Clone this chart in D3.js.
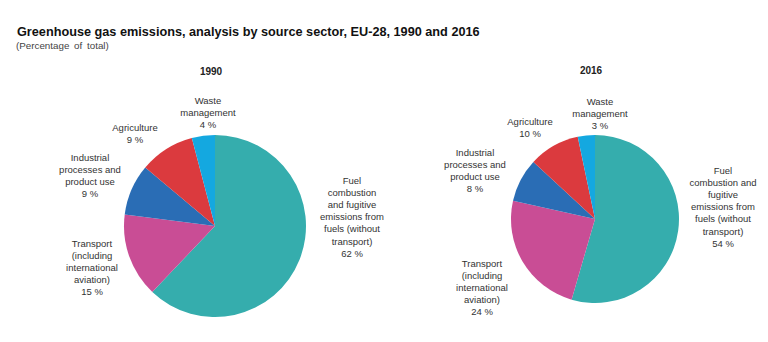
<!DOCTYPE html>
<html>
<head>
<meta charset="utf-8">
<script src="https://cdn.jsdelivr.net/npm/d3@7"></script>
<style>
  html, body { margin: 0; padding: 0; background: #ffffff; }
  svg { display: block; font-family: "Liberation Sans", Arial, sans-serif; }
</style>
</head>
<body>
<svg id="chart" width="768" height="342"></svg>
<script>
// ---- Data ----
const categories = [
  "Fuel combustion and fugitive emissions from fuels (without transport)",
  "Transport (including international aviation)",
  "Industrial processes and product use",
  "Agriculture",
  "Waste management"
];
const years = ["1990", "2016"];
const values1990 = [62.1, 14.9, 9.1, 9.8, 4.1];
const values2016 = [54.5, 24.0, 8.4, 9.8, 3.3];
const labels1990 = ["62 %", "15 %", "9 %", "9 %", "4 %"];
const labels2016 = ["54 %", "24 %", "8 %", "10 %", "3 %"];
const labelLines1990 = [
  ["Fuel", "combustion", "and fugitive", "emissions from", "fuels (without", "transport)"],
  ["Transport", "(including", "international", "aviation)"],
  ["Industrial", "processes and", "product use"],
  ["Agriculture"],
  ["Waste", "management"]
];
const labelLines2016 = [
  ["Fuel", "combustion and", "fugitive", "emissions from", "fuels (without", "transport)"],
  ["Transport", "(including", "international", "aviation)"],
  ["Industrial", "processes and", "product use"],
  ["Agriculture"],
  ["Waste", "management"]
];
const title = "Greenhouse gas emissions, analysis by source sector, EU-28, 1990 and 2016";
const subtitle = "(Percentage of total)";

// ---- Layout / style ----
const colors = ["#35adad", "#c94d95", "#2a6db5", "#db3a3e", "#14a8e0"];
const pies = [
  { year: years[0], values: values1990, pct: labels1990, lines: labelLines1990,
    cx: 215, cy: 226, r: 91, yearY: 75,
    labelPos: [[352, 184], [92, 247], [90, 161], [135, 131], [208, 104]] },
  { year: years[1], values: values2016, pct: labels2016, lines: labelLines2016,
    cx: 595, cy: 219, r: 84, yearY: 74,
    labelPos: [[723, 174], [482, 267], [475, 156], [530, 125], [600, 105]] }
];
const lineH = 12.1;

const svg = d3.select("#chart");

svg.append("text")
  .attr("x", 17).attr("y", 36)
  .attr("font-size", 12.7).attr("font-weight", "bold").attr("fill", "#111")
  .text(title);
svg.append("text")
  .attr("x", 16).attr("y", 48.5)
  .attr("font-size", 9.8).attr("fill", "#444")
  .attr("word-spacing", 2)
  .text(subtitle);

const color = d3.scaleOrdinal().domain(categories).range(colors);

pies.forEach(p => {
  const data = categories.map((c, i) => ({ cat: c, value: p.values[i], i }));
  const pie = d3.pie().value(d => d.value).sort(null);
  const arc = d3.arc().innerRadius(0).outerRadius(p.r);
  const g = svg.append("g").attr("transform", `translate(${p.cx},${p.cy})`);
  g.selectAll("path").data(pie(data)).join("path")
    .attr("d", arc)
    .attr("fill", d => color(d.data.cat))
    .attr("stroke", "none");

  svg.append("text")
    .attr("x", p.cx - 4).attr("y", p.yearY)
    .attr("text-anchor", "middle")
    .attr("font-size", 10).attr("font-weight", "bold").attr("fill", "#222")
    .text(p.year);

  data.forEach((d, i) => {
    const [lx, ly] = p.labelPos[i];
    const t = svg.append("text")
      .attr("text-anchor", "middle")
      .attr("font-size", 9.5).attr("fill", "#333");
    const lines = p.lines[i].concat([p.pct[i]]);
    lines.forEach((ln, k) => {
      t.append("tspan").attr("x", lx).attr("y", ly + k * lineH).text(ln);
    });
  });
});
</script>
</body>
</html>
